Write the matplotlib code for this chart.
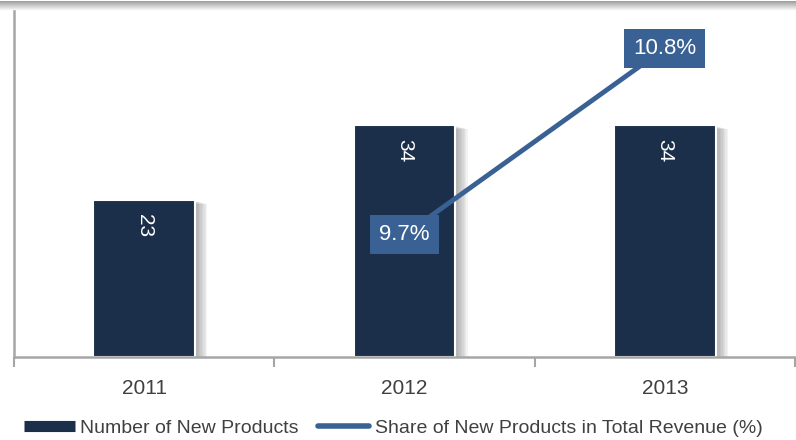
import numpy as np
import matplotlib
matplotlib.use("Agg")
import matplotlib.pyplot as plt
import matplotlib.patheffects as pe
from matplotlib.lines import Line2D

plt.rcParams['font.family'] = ['Liberation Sans', 'DejaVu Sans']

years = ['2011', '2012', '2013']
new_products = [23, 34, 34]
share_years = ['2012', '2013']
share_pct = [9.7, 10.8]

navy = '#1c2f4a'
blue = '#3a6194'
grey = '#a6a6a6'

fig = plt.figure(figsize=(7.96, 4.40), dpi=100)

# grey band at the very top
band = fig.add_axes([0, 1 - 11 / 440, 1, 10 / 440])
grad = np.linspace(0.62, 1.0, 20).reshape(-1, 1)
band.imshow(grad, cmap='gray', vmin=0, vmax=1, aspect='auto', extent=[0, 1, 0, 1])
band.axis('off')

ax = fig.add_axes([14 / 796, 83 / 440, 781 / 796, 346 / 440])
x = np.arange(len(years))

# soft shadow: a stack of faint offset copies
shadow = [pe.SimplePatchShadow(offset=(o, -o * 0.3), shadow_rgbFace='#606060', alpha=0.07)
          for o in range(9, 1, -1)]

bars = ax.bar(x, new_products, width=0.39, color=navy, edgecolor='white', linewidth=1.5, zorder=2)
for b in bars:
    b.set_path_effects(shadow + [pe.Normal()])
    ax.annotate(f"{b.get_height():.0f}", (b.get_x() + b.get_width() / 2, b.get_height()),
                xytext=(0, -18), textcoords='offset points', rotation=-90,
                ha='center', va='center', color='white', fontsize=15, zorder=4)

ax.set_xlim(-0.5, 2.5)
ax.set_ylim(0, 50.8)
ax.set_xticks(x)
ax.set_xticklabels(years, fontsize=15, color='#404040')
ax.tick_params(axis='x', which='major', length=0, pad=16)
ax.set_xticks([-0.5, 0.5, 1.5, 2.5], minor=True)
ax.tick_params(axis='x', which='minor', length=7, width=1.5, color=grey, direction='out')
ax.set_yticks([])
for s in ['top', 'right']:
    ax.spines[s].set_visible(False)
ax.spines['left'].set_color(grey)
ax.spines['left'].set_linewidth(1.8)
ax.spines['bottom'].set_color(grey)
ax.spines['bottom'].set_linewidth(1.8)

ax2 = ax.twinx()
sx = [years.index(y) for y in share_years]
ax2.plot(sx, share_pct, color=blue, linewidth=3.5, zorder=3)
for xi, v in zip(sx, share_pct):
    ax2.text(xi, v, f"{v}%", ha='center', va='center', color='white', fontsize=16,
             bbox=dict(boxstyle='square,pad=0.4', facecolor=blue, edgecolor='none'), zorder=5)
ax2.set_ylim(8.98, 11.02)
ax2.set_yticks([])
for s in ['top', 'right', 'left', 'bottom']:
    ax2.spines[s].set_visible(False)

handles = [Line2D([0], [0], color=navy, linewidth=8, solid_capstyle='butt'),
           Line2D([0], [0], color=blue, linewidth=4, solid_capstyle='round')]
fig.legend(handles, ['Number of New Products', 'Share of New Products in Total Revenue (%)'],
           loc='center', bbox_to_anchor=(0.494, 0.027), ncol=2, frameon=False,
           fontsize=14, handlelength=2.6, handletextpad=0.3, columnspacing=1.0,
           labelcolor='#404040')

fig.savefig('out.png', dpi=100)
